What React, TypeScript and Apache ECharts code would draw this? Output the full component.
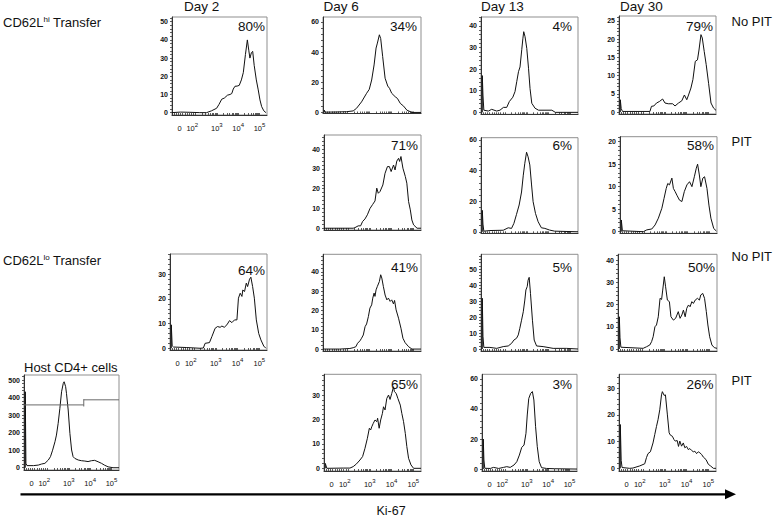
import React, { useEffect, useRef } from "react";
import * as echarts from "echarts";

// ---------- data (x = display channel in decades, y = cell count) ----------
const X_MIN = 0.9;
const X_MAX = 5.35;
const xTickValues = [1.25, 1.85, 3, 4, 5];
const xTickLabels = ["0", "10{s|2}", "10{s|3}", "10{s|4}", "10{s|5}"];

const hiNoPitDay2 = [[0.9,0],[1.3,0.3],[1.7,0.2],[2.2,0],[2.52,0],[2.75,1],[2.99,2.4],[3.1,4.5],[3.23,7.4],[3.35,8],[3.5,9.6],[3.62,10],[3.7,10.5],[3.77,13],[3.85,14.5],[3.95,14.6],[4.05,15],[4.15,18],[4.24,22],[4.34,32],[4.43,40],[4.5,34],[4.55,30],[4.62,33],[4.68,33.7],[4.75,26],[4.85,18],[4.94,12.5],[5.02,7],[5.1,3.3],[5.2,1],[5.3,0]];
const hiNoPitDay6 = [[0.96,0],[0.96,1.5],[1.0,0.2],[1.5,0.3],[1.97,0.5],[2.27,1],[2.42,2.7],[2.65,7],[2.88,12.7],[3.0,15.3],[3.11,21.5],[3.22,31.5],[3.31,42.7],[3.37,46],[3.46,51.5],[3.52,49],[3.61,37],[3.72,22.7],[3.84,17.5],[3.92,16],[4.02,12.7],[4.18,10.4],[4.28,9.3],[4.41,6],[4.56,4.2],[4.71,1.5],[4.94,0],[5.35,0]];
const hiNoPitDay13 = [[0.96,0],[0.96,17],[0.99,8],[1.03,1],[1.24,0.6],[1.39,1.4],[1.62,0.6],[1.77,1],[1.93,2.3],[2.08,2.3],[2.2,5],[2.36,7],[2.46,9.6],[2.54,14.2],[2.62,18.8],[2.69,21],[2.77,29],[2.82,34],[2.86,37.3],[2.92,35],[3.0,29.6],[3.08,20.4],[3.15,11],[3.23,4.2],[3.38,1.9],[3.54,1],[4.15,1],[4.31,0],[5.35,0]];
const hiNoPitDay30 = [[0.96,0],[0.96,3.4],[1.0,1],[1.06,0.2],[2.32,0.2],[2.39,1.6],[2.5,1.7],[2.62,2.5],[2.75,2.9],[2.9,3.6],[3.01,2.5],[3.16,2.3],[3.36,2.3],[3.47,1.7],[3.63,2.5],[3.78,3.1],[3.9,4.7],[4.01,3.4],[4.09,4.7],[4.2,6.6],[4.29,8.9],[4.4,13.9],[4.5,14.3],[4.57,17],[4.66,21.2],[4.72,20.3],[4.81,16.6],[4.9,13],[5.01,7.9],[5.12,2.5],[5.24,1.1],[5.35,0.5]];
const hiPitDay6 = [[0.9,0],[2.24,0],[2.32,0.3],[2.47,1.2],[2.58,1.2],[2.67,3.4],[2.78,4.7],[2.89,6.8],[3.01,10],[3.13,12],[3.24,13.8],[3.32,20.3],[3.39,17.7],[3.47,18.6],[3.6,21.9],[3.7,27.8],[3.81,31.2],[3.9,31.2],[3.98,28.7],[4.09,32],[4.16,29.5],[4.24,34],[4.32,35.4],[4.37,33.8],[4.43,36.3],[4.52,30.4],[4.63,26.2],[4.7,22.8],[4.78,13.5],[4.86,9.3],[4.93,4.2],[5.01,1.7],[5.17,0],[5.35,0]];
const hiPitDay13 = [[0.96,0],[0.96,14],[0.99,5],[1.03,0.4],[1.31,0.8],[1.92,1],[2.15,2.6],[2.3,2.2],[2.41,5.5],[2.53,11.4],[2.65,17.5],[2.76,26],[2.84,37],[2.91,44.8],[2.99,52],[3.06,49],[3.14,43.7],[3.22,30.6],[3.29,19.7],[3.4,12],[3.52,6.6],[3.67,2.6],[3.83,2.2],[4.05,1.1],[4.28,0.4],[5.35,0]];
const hiPitDay30 = [[0.96,0],[0.96,2.6],[1.01,0.2],[1.97,0],[2.13,0.4],[2.36,0.6],[2.51,1.5],[2.66,3],[2.82,5.2],[2.92,7.4],[3.02,9.6],[3.09,10.7],[3.17,10.4],[3.28,11.9],[3.35,9.6],[3.43,8.9],[3.51,8.1],[3.63,7],[3.74,6.7],[3.85,8.9],[3.97,10.4],[4.09,11.1],[4.2,10],[4.31,12.2],[4.4,14.1],[4.46,15],[4.54,12.6],[4.61,10],[4.7,11.9],[4.78,12.2],[4.89,9.6],[4.98,5.9],[5.07,3],[5.2,0.7],[5.32,0.15]];
const loNoPitDay2 = [[0.96,0],[0.96,9.5],[1.0,1],[1.06,0.5],[1.67,0.3],[2.28,0],[2.43,0.1],[2.51,2],[2.71,2.3],[2.82,4.7],[2.97,8.1],[3.08,8.8],[3.2,8.5],[3.28,9],[3.39,8.5],[3.51,9.5],[3.63,11.2],[3.74,10.4],[3.86,11.5],[3.97,11.5],[4.04,20.3],[4.12,22.3],[4.2,21],[4.24,23.6],[4.32,23],[4.4,26.4],[4.46,25],[4.55,28],[4.61,28.8],[4.69,25],[4.77,20.3],[4.86,11.5],[4.97,6],[5.07,3.4],[5.2,0.9],[5.3,0]];
const loNoPitDay6 = [[0.9,0],[1.66,0],[2.12,0.3],[2.27,0.7],[2.39,1.2],[2.47,3],[2.58,4.3],[2.65,5.6],[2.73,7.3],[2.81,11.6],[2.88,13],[2.96,16.8],[3.03,21.2],[3.11,22.9],[3.16,26.4],[3.22,29],[3.26,27.3],[3.31,30.7],[3.37,32.5],[3.46,35],[3.52,38.5],[3.57,36.8],[3.64,32.5],[3.72,28],[3.8,25.5],[3.87,26.4],[3.95,24.7],[4.02,25.5],[4.1,23.4],[4.15,25.2],[4.22,20.3],[4.33,16],[4.44,10.8],[4.53,5.6],[4.63,3.3],[4.79,1.2],[4.94,0],[5.35,0]];
const loNoPitDay13 = [[0.96,0],[0.96,31.7],[0.99,8],[1.03,1],[1.31,1],[1.62,0.4],[1.92,1.5],[2.15,1.9],[2.3,3.5],[2.41,5.6],[2.53,6.7],[2.61,8.8],[2.68,12.9],[2.76,18],[2.84,23.3],[2.91,30.6],[2.96,36.9],[3.02,39],[3.06,43],[3.11,44.8],[3.17,34.8],[3.26,18],[3.34,5.6],[3.45,1.9],[3.75,1.5],[4.21,0.4],[4.82,0.4],[5.35,0]];
const loNoPitDay30 = [[0.96,0],[0.96,14.5],[0.99,5],[1.03,0.8],[2.03,0.3],[2.18,1],[2.33,1.8],[2.41,3.3],[2.48,5.5],[2.56,10],[2.63,10.8],[2.71,14.5],[2.79,22.8],[2.86,22.3],[2.91,26.5],[2.98,32.5],[3.04,28],[3.12,22],[3.21,21.3],[3.28,14.5],[3.39,13],[3.49,13.8],[3.61,16.8],[3.69,13.8],[3.77,15.3],[3.84,17.5],[3.92,14.5],[3.99,18.3],[4.07,19.8],[4.14,19],[4.22,21.3],[4.29,20.5],[4.37,22],[4.47,22.8],[4.56,22],[4.62,24.3],[4.71,25],[4.79,22.8],[4.87,16.8],[4.94,10.8],[5.02,5.5],[5.12,1.8],[5.23,0.6],[5.35,0.3]];
const hostCD4 = [[0.96,0],[0.96,433],[0.99,25],[1.04,12],[1.34,12],[1.57,15],[1.72,21],[1.88,25],[2.04,44],[2.14,63],[2.24,100],[2.35,148],[2.42,186],[2.5,253],[2.58,338],[2.66,433],[2.74,481],[2.78,490],[2.85,462],[2.89,424],[2.97,329],[3.05,196],[3.13,101],[3.2,63],[3.28,53],[3.44,44],[3.59,40],[3.75,38],[3.9,35],[4.06,40],[4.21,42],[4.37,34],[4.53,25],[4.68,14],[4.84,5],[5.07,0],[5.35,0]];
const hostGateNeg = [[0.9,358],[3.7,358]];
const hostGatePos = [[3.7,387],[5.35,387]];
const hostGateDivider = [[3.7,349],[3.7,391]];
const loPitDay6 = [[0.96,0],[0.96,2],[1.03,0],[1.78,0.1],[2.09,0.1],[2.24,0.7],[2.39,1.8],[2.55,3.4],[2.67,4.8],[2.78,8.2],[2.89,12.3],[2.98,16.4],[3.04,15.7],[3.09,17],[3.16,18.4],[3.24,19.8],[3.32,19.1],[3.36,20.5],[3.43,16.4],[3.5,19.8],[3.58,22.5],[3.63,25.2],[3.7,23.9],[3.78,28.6],[3.86,30],[3.93,28.2],[4.01,30.7],[4.09,33.4],[4.13,31.4],[4.21,30.7],[4.29,28.6],[4.4,25.9],[4.47,22.5],[4.55,19.1],[4.63,14.3],[4.7,8.9],[4.78,4.1],[4.89,1.4],[5.01,0],[5.35,0]];
const loPitDay13 = [[0.96,0],[0.96,20],[0.99,6],[1.03,0.5],[1.29,0.4],[1.44,1.1],[1.68,0.4],[1.91,1.1],[2.06,1.6],[2.22,1.1],[2.4,2.7],[2.53,4.9],[2.65,9.3],[2.76,14.4],[2.87,16],[2.96,23.8],[3.02,36],[3.09,47],[3.18,50.4],[3.26,51.6],[3.33,46],[3.41,28.2],[3.49,14.9],[3.58,4.9],[3.69,0.9],[3.92,0.4],[4.31,0.2],[5.35,0]];
const loPitDay30 = [[0.96,0],[0.96,16.4],[1.0,3],[1.04,0.3],[1.39,0],[1.54,0.1],[1.85,0.9],[2.08,1.7],[2.16,4],[2.23,5.5],[2.34,6.2],[2.46,9.5],[2.54,12.6],[2.62,15.7],[2.69,18.2],[2.77,21.9],[2.85,27.5],[2.89,28.7],[2.97,27.3],[3.03,27.5],[3.12,20],[3.2,13.3],[3.26,12.4],[3.35,12],[3.42,10.8],[3.48,10.2],[3.57,10.4],[3.63,8.2],[3.69,10.2],[3.77,8.3],[3.85,9.5],[3.92,7.7],[4.0,8.2],[4.08,7],[4.15,7.4],[4.23,6.7],[4.31,6.2],[4.38,6.4],[4.46,5.5],[4.54,6.2],[4.61,5.8],[4.69,5.2],[4.77,4.2],[4.89,3.3],[5.0,1.5],[5.1,0.9],[5.23,0],[5.35,0]];

const percentLabels = ["80%", "34%", "4%", "79%", "71%", "6%", "58%", "64%", "41%", "5%", "50%", "", "65%", "3%", "26%"];
const dayLabels = ["Day 2", "Day 6", "Day 13", "Day 30"];
const rowLabels = ["No PIT", "PIT", "No PIT", "PIT"];

// ---------- layout (pixels) ----------
type Panel = {
  data: number[][];
  pct: string;
  rect: [number, number, number, number]; // left, top, right, bottom
  yMin: number;
  yMax: number;
  yStep: number;
  yTop: number;
  showX: boolean;
  pctPos: [number, number];
};

const panels: Panel[] = [
  { data: hiNoPitDay2, pct: percentLabels[0], rect: [172, 17, 267, 115], yMin: -1.3, yMax: 52.6, yStep: 10, yTop: 50, showX: true, pctPos: [265, 26.5] },
  { data: hiNoPitDay6, pct: percentLabels[1], rect: [323, 17, 421, 113.5], yMin: -0.7, yMax: 63.3, yStep: 20, yTop: 60, showX: false, pctPos: [417, 26.5] },
  { data: hiNoPitDay13, pct: percentLabels[2], rect: [481, 17, 578, 114.3], yMin: -0.9, yMax: 44.1, yStep: 10, yTop: 40, showX: false, pctPos: [572, 26.5] },
  { data: hiNoPitDay30, pct: percentLabels[3], rect: [619, 16, 716, 114], yMin: -0.5, yMax: 26.3, yStep: 5, yTop: 25, showX: false, pctPos: [713, 26] },
  { data: hiPitDay6, pct: percentLabels[4], rect: [324, 135, 421, 230], yMin: -0.9, yMax: 47.2, yStep: 10, yTop: 40, showX: false, pctPos: [418, 145.5] },
  { data: hiPitDay13, pct: percentLabels[5], rect: [481, 137.7, 578, 233.3], yMin: -1, yMax: 61.5, yStep: 20, yTop: 60, showX: false, pctPos: [572, 145.5] },
  { data: hiPitDay30, pct: percentLabels[6], rect: [620, 136.7, 717, 233.3], yMin: -0.36, yMax: 21.1, yStep: 5, yTop: 20, showX: false, pctPos: [714, 145.5] },
  { data: loNoPitDay2, pct: percentLabels[7], rect: [170, 254, 267, 350], yMin: -0.7, yMax: 38.2, yStep: 10, yTop: 30, showX: true, pctPos: [265, 270] },
  { data: loNoPitDay6, pct: percentLabels[8], rect: [323, 254.3, 421, 351], yMin: -1, yMax: 49.1, yStep: 10, yTop: 40, showX: false, pctPos: [418, 267] },
  { data: loNoPitDay13, pct: percentLabels[9], rect: [481, 254.3, 578, 351], yMin: -1.25, yMax: 59.2, yStep: 10, yTop: 50, showX: false, pctPos: [572, 267] },
  { data: loNoPitDay30, pct: percentLabels[10], rect: [618, 254.3, 717, 351], yMin: -0.9, yMax: 42.6, yStep: 10, yTop: 40, showX: false, pctPos: [715, 267] },
  { data: hostCD4, pct: percentLabels[11], rect: [24, 375, 119, 470], yMin: -13, yMax: 528.5, yStep: 100, yTop: 500, showX: true, pctPos: [0, 0] },
  { data: loPitDay6, pct: percentLabels[12], rect: [324, 374.3, 421, 471], yMin: -1.1, yMax: 38.5, yStep: 10, yTop: 30, showX: true, pctPos: [418, 384] },
  { data: loPitDay13, pct: percentLabels[13], rect: [482, 374.3, 577, 471], yMin: -1.3, yMax: 63.1, yStep: 20, yTop: 60, showX: true, pctPos: [572, 384] },
  { data: loPitDay30, pct: percentLabels[14], rect: [619, 374.3, 716, 471], yMin: -1, yMax: 35.2, yStep: 10, yTop: 30, showX: true, pctPos: [713.5, 384] },
];

const FONT = '"Liberation Sans", Arial, Helvetica, sans-serif';

function range(start: number, end: number, step: number) {
  const out: number[] = [];
  for (let v = start; v <= end + 1e-9; v += step) out.push(Math.round(v * 1000) / 1000);
  return out;
}

const xMinorTicks: number[] = (() => {
  const t: number[] = [1.0, 1.1, 1.2, 1.3, 1.4, 1.5, 1.6, 1.7, 1.8, 1.9];
  for (let d = 2; d <= 4; d++) for (let k = 1; k <= 9; k++) t.push(d + Math.log10(k));
  t.push(5);
  return t;
})();

function buildOption() {
  const grid: any[] = [];
  const xAxis: any[] = [];
  const yAxis: any[] = [];
  const series: any[] = [];
  const graphic: any[] = [];

  panels.forEach((p, i) => {
    const [l, t, r, b] = p.rect;
    grid.push({
      left: l, top: t, width: r - l, height: b - t,
      show: true, borderColor: "#8f8f8f", borderWidth: 1, backgroundColor: "transparent",
      containLabel: false, outerBoundsMode: "none",
    });
    xAxis.push({
      gridIndex: i, type: "value", min: X_MIN, max: X_MAX,
      axisLine: { show: true, onZero: false, lineStyle: { color: "#333", width: 1 } },
      axisTick: { show: true, customValues: xMinorTicks, length: 2, inside: true, lineStyle: { color: "#333", width: 0.8 } },
      axisLabel: {
        show: p.showX, customValues: xTickValues, margin: 7, fontSize: 7.5, color: "#111", fontFamily: FONT,
        lineHeight: 12,
        formatter: (v: number) => {
          const idx = xTickValues.findIndex((x) => Math.abs(x - v) < 1e-6);
          return idx >= 0 ? xTickLabels[idx] : "";
        },
        rich: { s: { fontSize: 6, lineHeight: 5, verticalAlign: "top", color: "#111", fontFamily: FONT } },
      },
      splitLine: { show: false },
    });
    yAxis.push({
      gridIndex: i, type: "value", min: p.yMin, max: p.yMax,
      axisLine: { show: true, onZero: false, lineStyle: { color: "#333", width: 1 } },
      axisTick: { show: true, customValues: range(0, p.yMax, p.yStep / 5), length: 2, lineStyle: { color: "#333", width: 0.8 } },
      axisLabel: {
        show: true, customValues: range(0, p.yTop, p.yStep), margin: 4, fontSize: 7, fontWeight: "bold",
        color: "#111", fontFamily: FONT,
      },
      splitLine: { show: false },
    });
    series.push({
      type: "line", xAxisIndex: i, yAxisIndex: i, data: p.data, showSymbol: false, symbol: "none",
      lineStyle: { color: "#111", width: 1 }, clip: true, silent: true,
    });
    if (p.pct) {
      graphic.push({
        type: "text", x: p.pctPos[0], y: p.pctPos[1], silent: true,
        style: { text: p.pct, fill: "#111", fontSize: 13.5, fontFamily: FONT, align: "right", verticalAlign: "middle" },
      });
    }
  });

  // host gate markers (panel index 11)
  [hostGateNeg, hostGatePos, hostGateDivider].forEach((g) => {
    series.push({
      type: "line", xAxisIndex: 11, yAxisIndex: 11, data: g, showSymbol: false, symbol: "none",
      lineStyle: { color: "#6a6a6a", width: 1 }, silent: true,
    });
  });

  const dayX = [184, 323.5, 481, 620];
  dayLabels.forEach((d, i) => {
    graphic.push({
      type: "text", x: dayX[i], y: 6.5, silent: true,
      style: { text: d, fill: "#111", fontSize: 13.5, fontFamily: FONT, align: "left", verticalAlign: "middle" },
    });
  });
  const rowY = [21.7, 141.7, 256.7, 380];
  rowLabels.forEach((r, i) => {
    graphic.push({
      type: "text", x: 731.5, y: rowY[i], silent: true,
      style: { text: r, fill: "#111", fontSize: 13, fontFamily: FONT, align: "left", verticalAlign: "middle" },
    });
  });
  const supRich = { sup: { fontSize: 8, lineHeight: 9, verticalAlign: "top", fill: "#111", fontFamily: FONT } };
  graphic.push({
    type: "text", x: 3, y: 22.5, silent: true,
    style: { text: "CD62L{sup|hi} Transfer", fill: "#111", fontSize: 13, lineHeight: 14, fontFamily: FONT, align: "left", verticalAlign: "middle", rich: supRich },
  });
  graphic.push({
    type: "text", x: 3, y: 260.5, silent: true,
    style: { text: "CD62L{sup|lo} Transfer", fill: "#111", fontSize: 13, lineHeight: 14, fontFamily: FONT, align: "left", verticalAlign: "middle", rich: supRich },
  });
  graphic.push({
    type: "text", x: 24, y: 367.5, silent: true,
    style: { text: "Host CD4+ cells", fill: "#111", fontSize: 13, fontFamily: FONT, align: "left", verticalAlign: "middle" },
  });
  // Ki-67 arrow
  graphic.push({
    type: "line", silent: true,
    shape: { x1: 20.5, y1: 494.3, x2: 727, y2: 494.3 },
    style: { stroke: "#000", lineWidth: 2.2 },
  });
  graphic.push({
    type: "polygon", silent: true,
    shape: { points: [[725, 489.3], [736, 494.3], [725, 499.3]] },
    style: { fill: "#000" },
  });
  graphic.push({
    type: "text", x: 391, y: 511, silent: true,
    style: { text: "Ki-67", fill: "#111", fontSize: 12.5, fontFamily: FONT, align: "center", verticalAlign: "middle" },
  });

  return {
    animation: false,
    backgroundColor: "#ffffff",
    grid, xAxis, yAxis, series, graphic,
    tooltip: { show: false },
  };
}

export default function App() {
  const ref = useRef<HTMLDivElement>(null);
  useEffect(() => {
    document.body.style.margin = "0";
    if (!ref.current) return;
    const chart = echarts.init(ref.current, undefined, { renderer: "svg" });
    chart.setOption(buildOption() as any);
    return () => chart.dispose();
  }, []);
  return (
    <div
      ref={ref}
      style={{ position: "absolute", left: 0, top: 0, width: 774, height: 518, background: "#fff" }}
    />
  );
}
